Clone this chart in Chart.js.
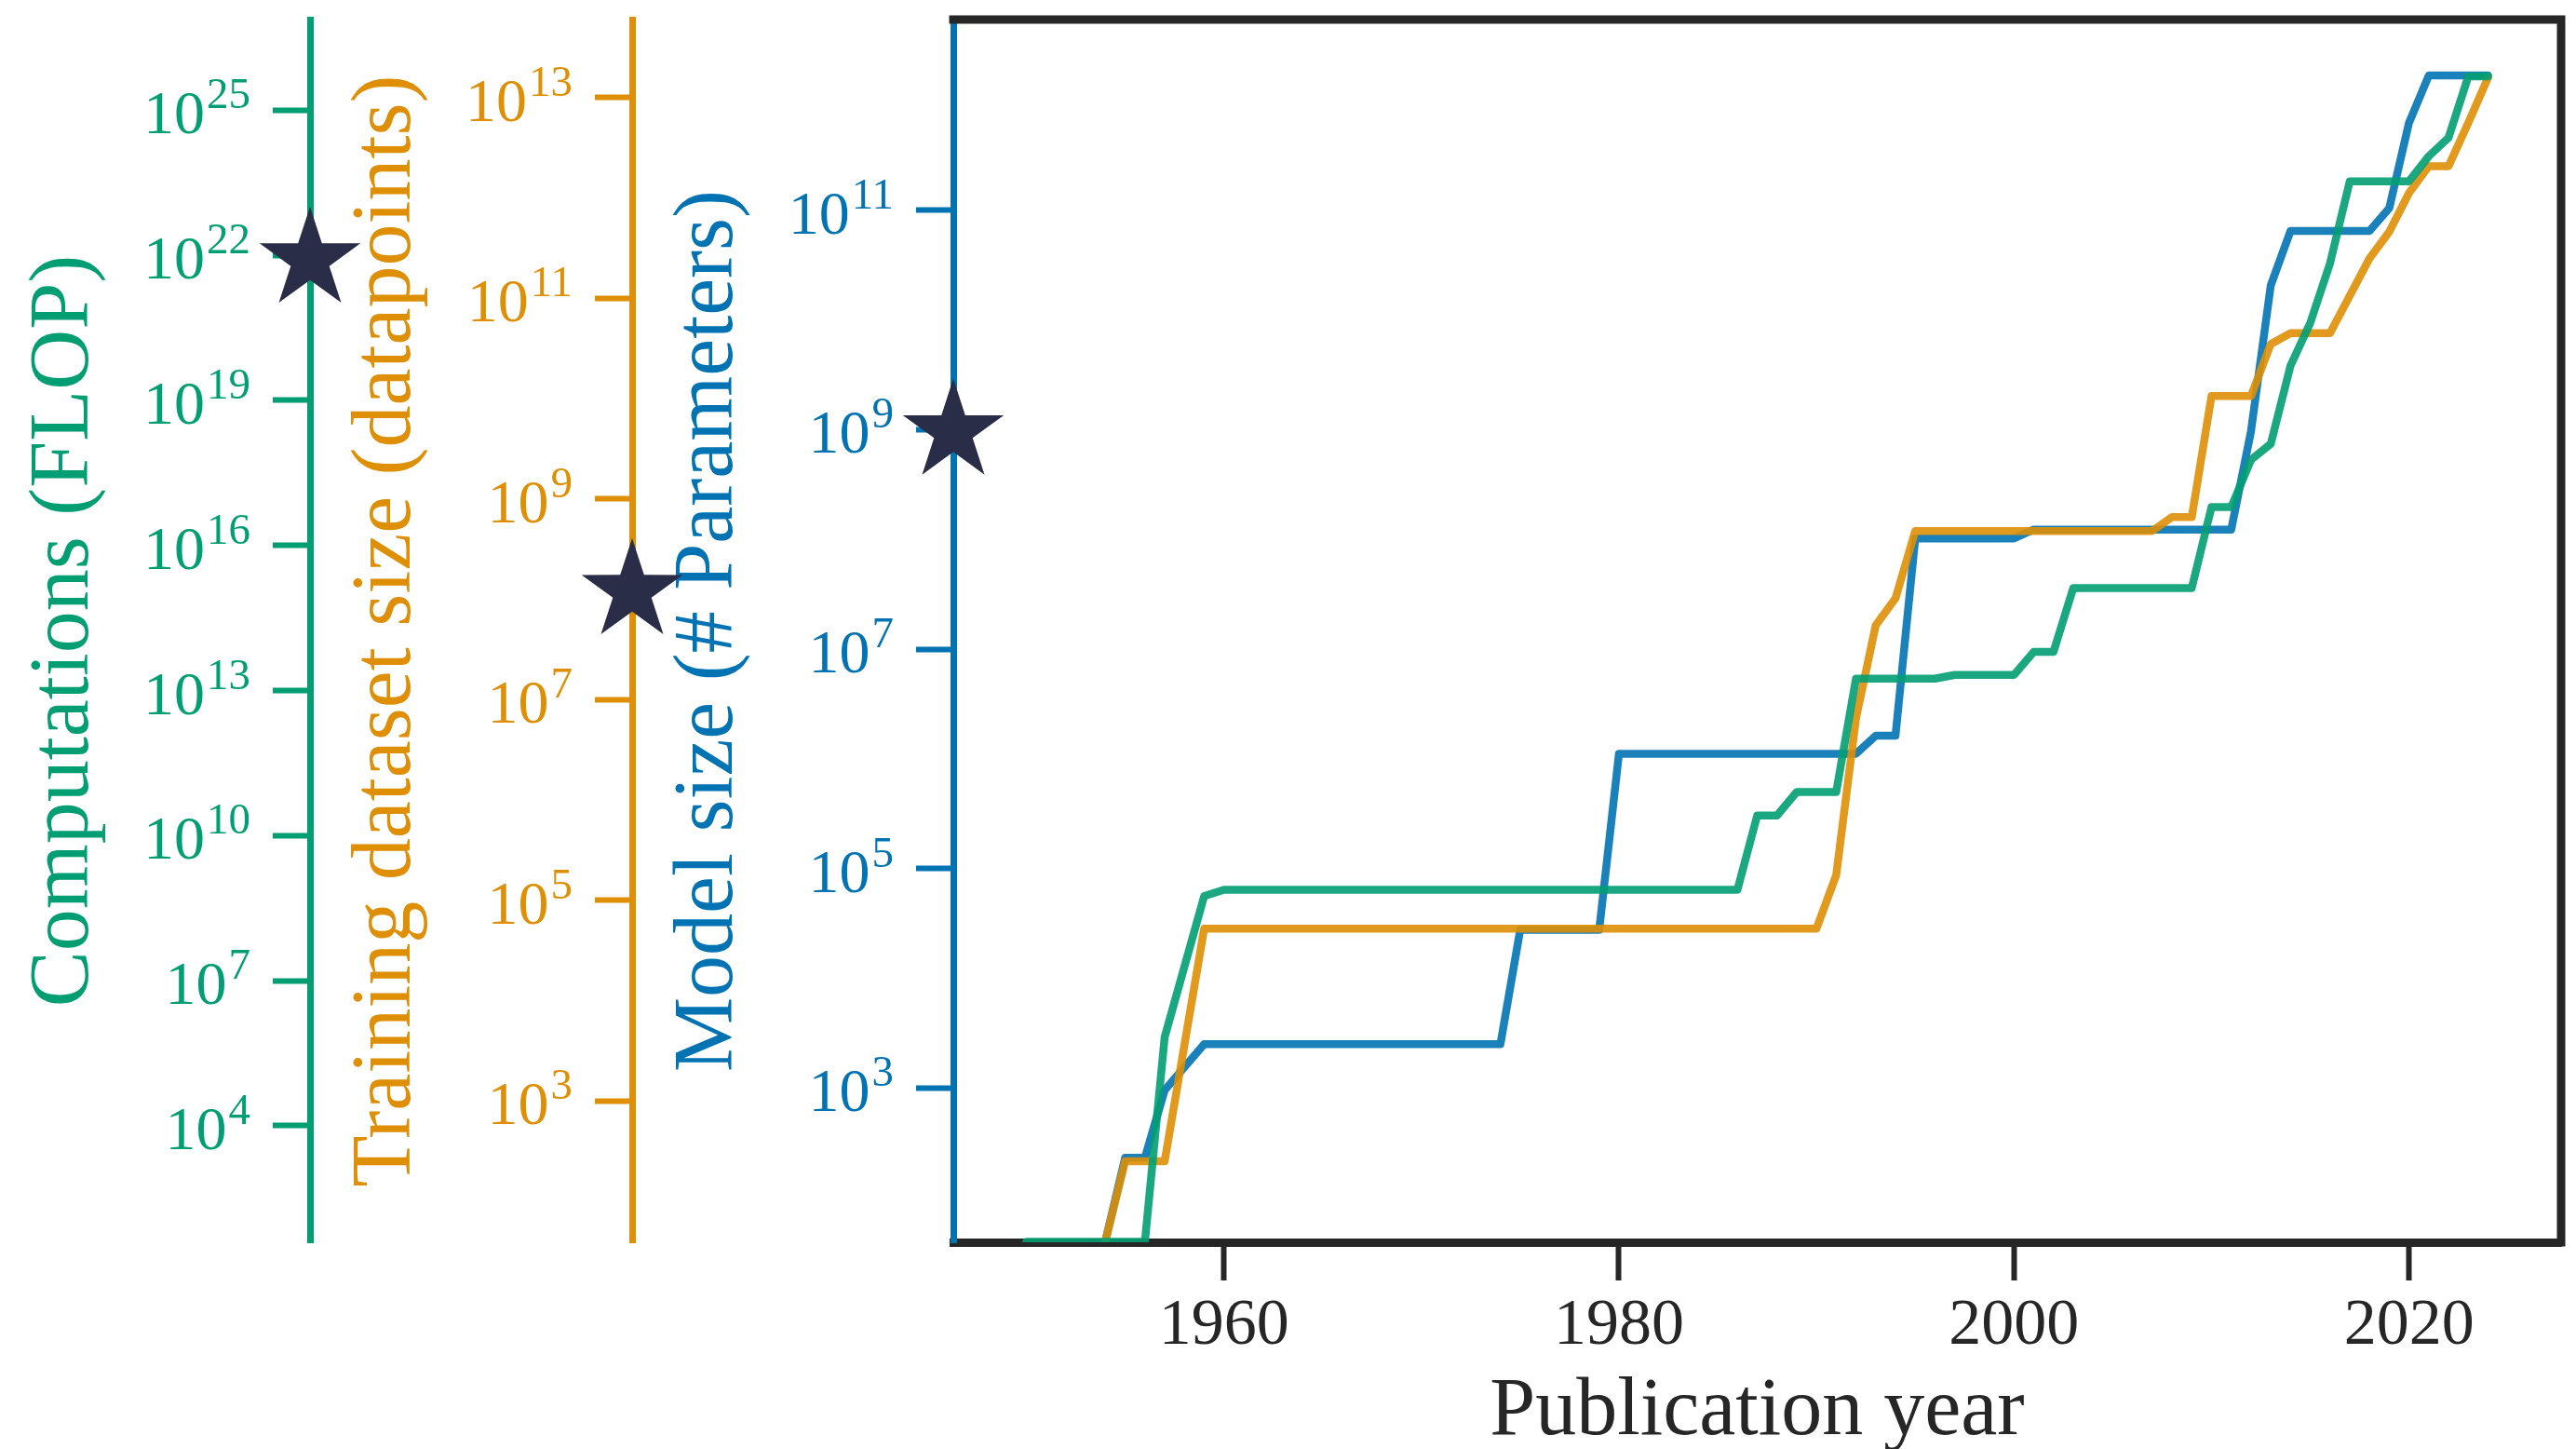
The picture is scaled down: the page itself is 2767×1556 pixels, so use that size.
<!DOCTYPE html>
<html lang="en">
<head>
<meta charset="utf-8">
<title>Publication year</title>
<script src="https://cdn.jsdelivr.net/npm/chart.js@4.4.1/dist/chart.umd.min.js"></script>
<style>
  html, body { margin: 0; padding: 0; background: #fff; overflow: hidden; }
  canvas { display: block; }
</style>
</head>
<body>
<canvas id="grafico" width="2767" height="1556"></canvas>
<script>
// running maximum per publication year
const flopYears = [1950, 1956, 1957, 1959, 1960, 1986, 1987, 1988, 1989, 1991, 1992, 1996, 1997, 2000, 2001, 2002, 2003, 2009, 2010, 2011, 2012, 2013, 2014, 2015, 2016, 2017, 2020, 2021, 2022, 2023, 2024];
const flopValues = [40, 40, 6.8e5, 5.6e8, 7.6e8, 7.6e8, 2.6e10, 2.6e10, 8.0e10, 8.0e10, 1.76e13, 1.76e13, 2.1e13, 2.1e13, 6.3e13, 6.3e13, 1.32e15, 1.32e15, 6.2e16, 6.2e16, 5.9e17, 1.26e18, 5.2e19, 4.0e20, 6.8e21, 3.4e23, 3.4e23, 1.12e24, 2.7e24, 5.0e25, 5.0e25];

const datasetYears = [1954, 1955, 1957, 1959, 1990, 1991, 1992, 1993, 1994, 1995, 2007, 2008, 2009, 2010, 2012, 2013, 2014, 2016, 2018, 2019, 2020, 2021, 2022, 2023, 2024];
const datasetValues = [40, 2.5e2, 2.5e2, 5.2e4, 5.2e4, 1.78e5, 6.5e6, 5.5e7, 1.02e8, 4.8e8, 4.8e8, 6.6e8, 6.6e8, 1.06e10, 1.06e10, 3.5e10, 4.5e10, 4.5e10, 2.5e11, 4.6e11, 1.12e12, 2.07e12, 2.07e12, 5.6e12, 1.58e13];

const paramYears = [1954, 1955, 1956, 1957, 1959, 1974, 1975, 1979, 1980, 1992, 1993, 1994, 1995, 2000, 2001, 2011, 2012, 2013, 2014, 2018, 2019, 2020, 2021, 2024];
const paramValues = [40, 2.3e2, 2.3e2, 9.5e2, 2.5e3, 2.5e3, 2.75e4, 2.75e4, 1.11e6, 1.11e6, 1.62e6, 1.62e6, 1.02e8, 1.02e8, 1.23e8, 1.23e8, 9.7e8, 2.07e10, 6.5e10, 6.5e10, 1.05e11, 6.3e11, 1.7e12, 1.7e12];

// star markers sitting on each axis
const starFlop = 8.1e21;
const starDataset = 1.2e8;
const starParams = 9.6e8;

const yearTicks = [1960, 1980, 2000, 2020];
const flopTicks = [1e4, 1e7, 1e10, 1e13, 1e16, 1e19, 1e22, 1e25];
const datasetTicks = [1e3, 1e5, 1e7, 1e9, 1e11, 1e13];
const paramTicks = [1e3, 1e5, 1e7, 1e9, 1e11];

document.addEventListener('DOMContentLoaded', () => {
  const $ = id => document.getElementById(id);

  const serif = '"Liberation Serif", "DejaVu Serif", serif';
  const escuro = '#262626';
  const verde = '#029e73';
  const laranja = '#de8f05';
  const azul = '#0173b2';
  const corEstrela = '#2a2d48';

  const pontos = (anos, valores) => anos.map((ano, i) => ({ x: ano, y: valores[i] }));

  function eixoLog(cor, peso, min, max, lista, largura, titulo, recuo) {
    return {
      type: 'logarithmic',
      position: 'left',
      weight: peso,
      min: min,
      max: max,
      afterBuildTicks: s => { s.ticks = lista.map(v => ({ value: v })); },
      afterFit: s => { s.width = largura; },
      grid: { drawOnChartArea: false, drawTicks: true, tickLength: 40, tickWidth: 6, tickColor: cor },
      border: { color: cor, width: 7 },
      ticks: { display: false },
      title: {
        display: true,
        text: titulo,
        color: cor,
        font: { family: serif, size: 90, lineHeight: 1 },
        padding: { top: recuo, bottom: 0 }
      }
    };
  }

  // "10" with a raised exponent next to each log tick
  const rotulosExpoente = {
    id: 'rotulosExpoente',
    afterDraw(chart) {
      const ctx = chart.ctx;
      ['yFlop', 'yDataset', 'yParams'].forEach(id => {
        const escala = chart.scales[id];
        const direita = escala.right - escala.options.grid.tickLength - 24;
        ctx.save();
        ctx.fillStyle = escala.options.border.color;
        ctx.textAlign = 'left';
        ctx.textBaseline = 'alphabetic';
        escala.ticks.forEach(t => {
          const y = escala.getPixelForValue(t.value);
          const exp = String(Math.round(Math.log10(t.value)));
          ctx.font = '47px ' + serif;
          const largExp = ctx.measureText(exp).width;
          ctx.font = '66px ' + serif;
          const largBase = ctx.measureText('10').width;
          const x0 = direita - largExp - largBase - 2;
          ctx.fillText('10', x0, y + 25);
          ctx.font = '47px ' + serif;
          ctx.fillText(exp, x0 + largBase + 2, y - 2);
        });
        ctx.restore();
      });
    }
  };

  // top and right sides of the plot box
  const moldura = {
    id: 'moldura',
    afterDraw(chart) {
      const { ctx, chartArea: { left, top, right, bottom } } = chart;
      ctx.save();
      ctx.strokeStyle = escuro;
      ctx.lineWidth = 9;
      ctx.lineCap = 'square';
      ctx.beginPath();
      ctx.moveTo(left, top);
      ctx.lineTo(right, top);
      ctx.lineTo(right, bottom);
      ctx.stroke();
      ctx.restore();
    }
  };

  const estrelas = {
    id: 'estrelas',
    afterDraw(chart) {
      const ctx = chart.ctx;
      [['yFlop', starFlop], ['yDataset', starDataset], ['yParams', starParams]].forEach(([id, valor]) => {
        const escala = chart.scales[id];
        const cx = escala.right;
        const cy = escala.getPixelForValue(valor);
        const externo = 57, interno = externo * 0.382;
        ctx.save();
        ctx.beginPath();
        for (let i = 0; i < 10; i++) {
          const r = i % 2 ? interno : externo;
          const a = -Math.PI / 2 + i * Math.PI / 5;
          ctx.lineTo(cx + r * Math.cos(a), cy + r * Math.sin(a));
        }
        ctx.closePath();
        ctx.fillStyle = corEstrela;
        ctx.fill();
        ctx.restore();
      });
    }
  };

  const linha = {
    borderWidth: 8.5,
    pointRadius: 0,
    pointHoverRadius: 0,
    tension: 0,
    borderJoinStyle: 'round',
    borderCapStyle: 'round',
    fill: false
  };

  new Chart($('grafico'), {
    type: 'line',
    data: {
      datasets: [
        { ...linha, label: 'Computations (FLOP)', data: pontos(flopYears, flopValues), yAxisID: 'yFlop', borderColor: 'rgba(2, 158, 115, 0.9)' },
        { ...linha, label: 'Training dataset size (datapoints)', data: pontos(datasetYears, datasetValues), yAxisID: 'yDataset', borderColor: 'rgba(222, 143, 5, 0.9)' },
        { ...linha, label: 'Model size (# Parameters)', data: pontos(paramYears, paramValues), yAxisID: 'yParams', borderColor: 'rgba(1, 115, 178, 0.9)' }
      ]
    },
    options: {
      responsive: false,
      animation: false,
      events: [],
      layout: { padding: { top: 21, right: 16, bottom: 0, left: 0 } },
      plugins: {
        legend: { display: false },
        tooltip: { enabled: false }
      },
      scales: {
        x: {
          type: 'linear',
          position: 'bottom',
          min: 1946.3,
          max: 2027.7,
          z: 1,
          afterBuildTicks: s => { s.ticks = yearTicks.map(v => ({ value: v })); },
          afterFit: s => { s.height = 222; },
          grid: { drawOnChartArea: false, drawTicks: true, tickLength: 41, tickWidth: 6, tickColor: escuro },
          border: { color: escuro, width: 9 },
          ticks: {
            color: escuro,
            font: { family: serif, size: 70, lineHeight: 1 },
            padding: 15,
            maxRotation: 0,
            autoSkip: false,
            callback: v => String(v)
          },
          title: {
            display: true,
            text: 'Publication year',
            color: escuro,
            font: { family: serif, size: 88, lineHeight: 0.9 },
            padding: { top: 0, bottom: 0 }
          }
        },
        yFlop: eixoLog(verde, 2, 39, 7.5e26, flopTicks, 333, 'Computations (FLOP)', 25),
        yDataset: eixoLog(laranja, 1, 39, 6e13, datasetTicks, 346, 'Training dataset size (datapoints)', 38),
        yParams: eixoLog(azul, 0, 39, 5.5e12, paramTicks, 345, 'Model size (# Parameters)', 38)
      }
    },
    plugins: [rotulosExpoente, moldura, estrelas]
  });
});
</script>
</body>
</html>
